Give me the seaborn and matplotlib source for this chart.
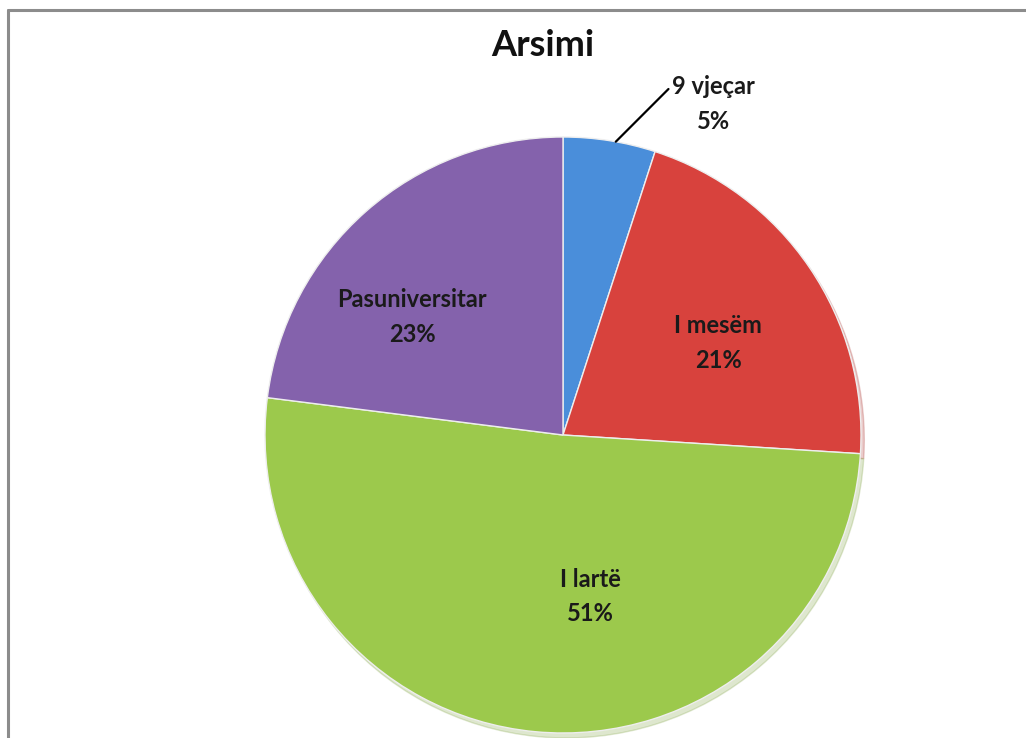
import numpy as np
import matplotlib
matplotlib.use('Agg')
import matplotlib.pyplot as plt
from matplotlib.lines import Line2D
import seaborn as sns

# Arsimi (education level) shares
categories = ['9 vjeçar', 'I mesëm', 'I lartë', 'Pasuniversitar']
shares = [5, 21, 51, 23]
colors = ['#4A8EDA', '#D8423D', '#9CC94C', '#8462AC']

sns.set_theme(style='white')
plt.rcParams['font.family'] = ['Lato', 'DejaVu Sans']

W, H = 1026, 738
fig = plt.figure(figsize=(W / 100, H / 100), dpi=100)
fig.patch.set_facecolor('white')

# pie centre ~ (563, 435) px, radius ~298 px
cx, cy, r = 563, 435, 298
ax = fig.add_axes([(cx - r) / W, (H - cy - r) / H, 2 * r / W, 2 * r / H])
ax.set_aspect('equal')

wedges, _ = ax.pie(shares, colors=colors, startangle=90, counterclock=False,
                   radius=1.0, center=(0, 0), frame=False,
                   wedgeprops=dict(edgecolor='#eeeeee', linewidth=1.0),
                   shadow=dict(ox=0.008, oy=-0.012, shade=0.2, alpha=0.25))
ax.set_xlim(-1, 1)
ax.set_ylim(-1, 1)
ax.axis('off')

lab_kw = dict(ha='center', va='center', fontsize=17, fontweight='bold',
              color='#1a1a1a', linespacing=1.6)

# label offsets (radius, angle) tuned to reference placement
place = {'I mesëm': (0.605, 30.7), 'I lartë': (0.55, -80.5),
         'Pasuniversitar': (0.643, 142.0)}
for cat, val in zip(categories, shares):
    txt = f'{cat}\n{val}%'
    if cat in place:
        rr, aa = place[cat]
        ax.text(rr * np.cos(np.radians(aa)), rr * np.sin(np.radians(aa)), txt, **lab_kw)
    else:
        # outside label with leader line
        a0 = np.radians(79.8)
        ax.annotate(txt, xy=(np.cos(a0), np.sin(a0)),
                    xytext=(1.22 * np.cos(np.radians(65.6)), 1.22 * np.sin(np.radians(65.6))),
                    arrowprops=dict(arrowstyle='-', color='black', lw=1.6,
                                    shrinkA=0, shrinkB=0,
                                    connectionstyle='angle,angleA=0,angleB=45,rad=0',
                                    relpos=(0.0, 0.76)),
                    annotation_clip=False, **lab_kw)

fig.text(543 / W, 1 - 45 / H, 'Arsimi', ha='center', va='center',
         fontsize=26, fontweight='bold', color='#111111')

# chart area border (only top and left edges visible in the crop)
lc = '#8c8c8c'
fig.add_artist(Line2D([8 / W, 8 / W], [0, 1 - 10 / H], color=lc, lw=2.2,
                      transform=fig.transFigure))
fig.add_artist(Line2D([8 / W, 1], [1 - 10 / H, 1 - 10 / H], color=lc, lw=2.2,
                      transform=fig.transFigure))

fig.savefig('out.png', dpi=100, facecolor='white')
